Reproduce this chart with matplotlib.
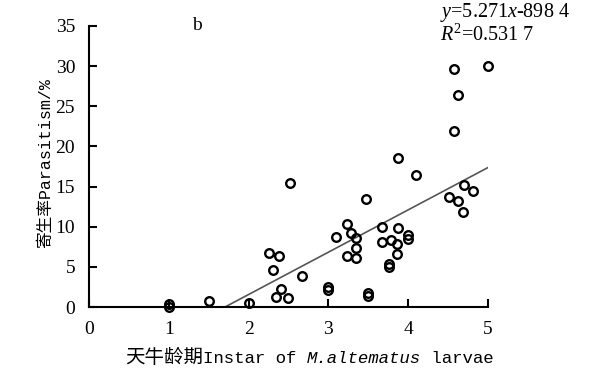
import matplotlib
matplotlib.use("Agg")
from matplotlib import pyplot as plt
from matplotlib.offsetbox import TextArea, HPacker, AnchoredOffsetbox
import numpy as np

# instar (x) vs parasitism % (y)
instar = [1.0, 1.0, 1.5, 2.0, 2.26, 2.38, 2.3, 2.41, 2.34, 2.5, 2.52, 2.67,
          3.0, 3.0, 3.5, 3.5, 3.1, 3.23, 3.28, 3.35, 3.34, 3.23, 3.35, 3.47,
          3.67, 3.67, 3.78, 3.76, 3.76, 3.87, 3.86, 3.86, 4.0, 4.0, 3.87, 4.1,
          4.57, 5.0, 4.62, 4.57, 4.7, 4.81, 4.51, 4.62, 4.69]
parasitism = [0.4, 0.0, 0.8, 0.5, 6.7, 6.4, 4.6, 2.2, 1.3, 1.1, 15.5, 3.9,
              2.5, 2.1, 1.8, 1.4, 8.7, 10.3, 9.2, 8.6, 7.3, 6.3, 6.1, 13.5,
              10.0, 8.1, 8.3, 5.4, 5.0, 9.9, 7.9, 6.6, 9.0, 8.5, 18.5, 16.5,
              29.6, 30.0, 26.4, 21.9, 15.2, 14.4, 13.7, 13.2, 11.8]

slope = 5.271
intercept = -8.984
eq_text = r"$y$=5.271$x$-898 4"
r2_text = r"$R^2$=0.531 7"

xticks = [0, 1, 2, 3, 4, 5]
yticks = [0, 5, 10, 15, 20, 25, 30, 35]

plt.rcParams['mathtext.fontset'] = 'custom'
plt.rcParams['mathtext.rm'] = 'Liberation Serif'
plt.rcParams['mathtext.it'] = 'Liberation Serif:italic'

fig = plt.figure(figsize=(5.91, 3.84), dpi=100)
ax = fig.add_axes([0.1506, 0.2005, 0.6751, 0.7318])

# fitted line, from where it crosses 0 up to x=5
x0 = -intercept / slope
line_x = np.array([x0, 5.0])
ax.plot(line_x, slope * line_x + intercept, color='#555555', lw=1.2)

ax.plot(instar, parasitism, 'o', ms=6.2, mfc='none', mec='black', mew=1.7,
        clip_on=False, zorder=3)

ax.set_xlim(0, 5)
ax.set_ylim(0, 35)
ax.set_xticks(xticks)
ax.set_yticks(yticks)
for s in ['top', 'right']:
    ax.spines[s].set_visible(False)
for s in ['left', 'bottom']:
    ax.spines[s].set_linewidth(1.5)
ax.tick_params(direction='in', length=6, width=1.5, labelsize=14)
ax.tick_params(axis='x', pad=10)
ax.tick_params(axis='y', pad=10)
for lab in ax.get_xticklabels() + ax.get_yticklabels():
    lab.set_family('Liberation Serif')

ax.text(1.35, 35, 'b', ha='center', va='center', fontsize=14,
        family='Liberation Serif')
ax.text(4.40, 36.7, eq_text, ha='left', va='center', fontsize=14.5,
        family='Liberation Serif', clip_on=False)
ax.text(4.40, 33.9, r2_text, ha='left', va='center', fontsize=14.5,
        family='Liberation Serif', clip_on=False)

# y label
fig.text(0.077, 0.575, '寄生率Parasitism/%', rotation=90, ha='center', va='center',
         fontsize=12, family=['Liberation Mono', 'Noto Sans CJK SC'])

# x label, species name in italics
parts = [
    TextArea('天牛龄期', textprops=dict(fontsize=14, family='Noto Sans CJK SC')),
    TextArea('Instar of ', textprops=dict(fontsize=12.5, family='Liberation Mono')),
    TextArea('M.altematus', textprops=dict(fontsize=12.5, family='Liberation Mono',
                                            style='italic')),
    TextArea(' larvae', textprops=dict(fontsize=12.5, family='Liberation Mono')),
]
box = HPacker(children=parts, sep=0, pad=0, align='baseline')
anchored = AnchoredOffsetbox(loc='center', child=box, frameon=False, pad=0,
                             bbox_to_anchor=(0.523, 0.068),
                             bbox_transform=fig.transFigure, borderpad=0)
fig.add_artist(anchored)

fig.savefig('out.png', dpi=100)
